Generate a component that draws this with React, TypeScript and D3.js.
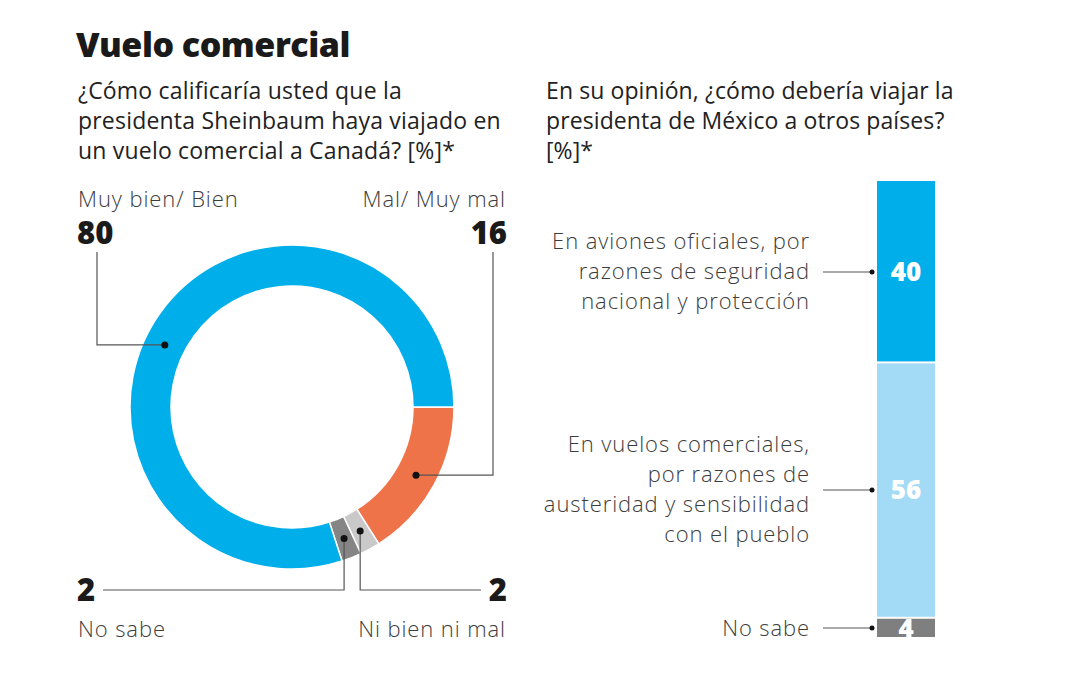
import React from 'react';
import * as d3 from 'd3';

// Donut: how people rate the commercial flight
const ratingLabels = ['Mal/ Muy mal', 'Ni bien ni mal', 'No sabe', 'Muy bien/ Bien'];
const ratingValues = [16, 2, 2, 80];
const ratingColors = ['#ef7349', '#c9c9c9', '#858585', '#00aeea'];

// Stacked bar: how the president should travel
const travelLabels = [
  ['En aviones oficiales, por', 'razones de seguridad', 'nacional y protección'],
  ['En vuelos comerciales,', 'por razones de', 'austeridad y sensibilidad', 'con el pueblo'],
  ['No sabe'],
];
const travelValues = [40, 56, 4];
const travelColors = ['#00aeea', '#a3daf6', '#7f7f7f'];

const FONT = '"Open Sans", Lato, sans-serif';
const TEXT = '#3c3c3c';
const LINE = '#555';

export default function App() {
  const width = 1080;
  const height = 675;

  // donut geometry
  const cx = 292, cy = 407;
  const outer = 162, inner = 121;
  const pie = d3.pie<number>().sort(null).startAngle(Math.PI / 2).endAngle(Math.PI / 2 + 2 * Math.PI);
  const arcs = pie(ratingValues);
  const arc = d3.arc<d3.PieArcDatum<number>>().innerRadius(inner).outerRadius(outer);
  const mid = (inner + outer) / 2;
  const dotAt = (a: number) => [cx + mid * Math.sin(a), cy - mid * Math.cos(a)];
  const dots = arcs.map((d, i) => {
    if (i === 3) return dotAt((296 / 180) * Math.PI);
    const [x, y] = arc.centroid(d);
    return [cx + x, cy + y];
  });

  // bar geometry
  const barX = 877, barW = 58;
  const y = d3.scaleLinear().domain([0, 100]).range([181, 637]);
  const starts = travelValues.map((_, i) => d3.sum(travelValues.slice(0, i)));
  const labelY = [272, 490, 628];

  const label = { fontSize: 22, fontWeight: 300, fill: TEXT, letterSpacing: 0.9 };
  const big = { fontSize: 31, fontWeight: 800, fill: '#1a1a1a' };

  return (
    <svg width={width} height={height} style={{ position: 'absolute', left: 0, top: 0, background: '#fff' }} fontFamily={FONT}>
      <defs>
        {travelValues.map((v, i) => (
          <clipPath id={`seg${i}`} key={i}>
            <rect x={barX} y={y(starts[i])} width={barW} height={y(starts[i] + v) - y(starts[i]) - (i < 2 ? 2 : 0)} />
          </clipPath>
        ))}
      </defs>

      <text x={76} y={57} fontSize={34} fontWeight={800} fill="#1a1a1a" letterSpacing={-0.5}>Vuelo comercial</text>
      {['¿Cómo calificaría usted que la', 'presidenta Sheinbaum haya viajado en', 'un vuelo comercial a Canadá? [%]*'].map((t, i) => (
        <text key={t} x={78} y={99 + i * 30} fontSize={23} fill="#222" letterSpacing={0.2}>{t}</text>
      ))}
      {['En su opinión, ¿cómo debería viajar la', 'presidenta de México a otros países?', '[%]*'].map((t, i) => (
        <text key={t} x={546} y={99 + i * 30} fontSize={23} fill="#222" letterSpacing={0.1}>{t}</text>
      ))}

      {/* donut */}
      <g transform={`translate(${cx},${cy})`}>
        {arcs.map((d, i) => (
          <path key={i} d={arc(d) || ''} fill={ratingColors[i]} stroke="#fff" strokeWidth={1.5} />
        ))}
      </g>

      {/* leaders for the donut */}
      <g fill="none" stroke={LINE} strokeWidth={1.2}>
        <polyline points={`${dots[3][0]},${dots[3][1]} 97,${dots[3][1]} 97,252`} />
        <polyline points={`${dots[0][0]},${dots[0][1]} 493,${dots[0][1]} 493,252`} />
        <polyline points={`${dots[1][0]},${dots[1][1]} ${dots[1][0]},590 481,590`} />
        <polyline points={`${dots[2][0]},${dots[2][1]} ${dots[2][0]},590 103,590`} />
      </g>
      {dots.map((p, i) => <circle key={i} cx={p[0]} cy={p[1]} r={3.5} fill="#111" />)}

      <text x={78} y={207} {...label}>{ratingLabels[3]}</text>
      <text x={77} y={244} {...big}>{ratingValues[3]}</text>
      <text x={506} y={207} {...label} textAnchor="end">{ratingLabels[0]}</text>
      <text x={507} y={244} {...big} textAnchor="end">{ratingValues[0]}</text>
      <text x={77} y={601} {...big}>{ratingValues[2]}</text>
      <text x={78} y={637} {...label}>{ratingLabels[2]}</text>
      <text x={507} y={601} {...big} textAnchor="end">{ratingValues[1]}</text>
      <text x={506} y={637} {...label} textAnchor="end">{ratingLabels[1]}</text>

      {/* stacked bar */}
      {travelValues.map((v, i) => {
        const y0 = y(starts[i]);
        const h = y(starts[i] + v) - y0 - (i < travelValues.length - 1 ? 2 : 0);
        return (
          <g key={i}>
            <rect x={barX} y={y0} width={barW} height={h} fill={travelColors[i]} />
            <text
              x={barX + barW / 2}
              y={i === 2 ? y0 + h / 2 + 10 : labelY[i] + 9}
              fontSize={26}
              fontWeight={800}
              fill="#fff"
              textAnchor="middle"
              clipPath={`url(#seg${i})`}
            >
              {v}
            </text>
            <line x1={823} x2={872} y1={labelY[i]} y2={labelY[i]} stroke={LINE} strokeWidth={1.2} />
            <circle cx={872} cy={labelY[i]} r={2.5} fill="#111" />
            {travelLabels[i].map((t, j) => {
              const n = travelLabels[i].length;
              const lineH = 30;
              const first = i === 2 ? labelY[i] + 8 : labelY[i] + 7 - ((n - 1) / 2) * lineH + (n === 4 ? -lineH / 2 + 15 : 0);
              return (
                <text key={t} x={810} y={first + j * lineH} {...label} textAnchor="end">{t}</text>
              );
            })}
          </g>
        );
      })}
    </svg>
  );
}
